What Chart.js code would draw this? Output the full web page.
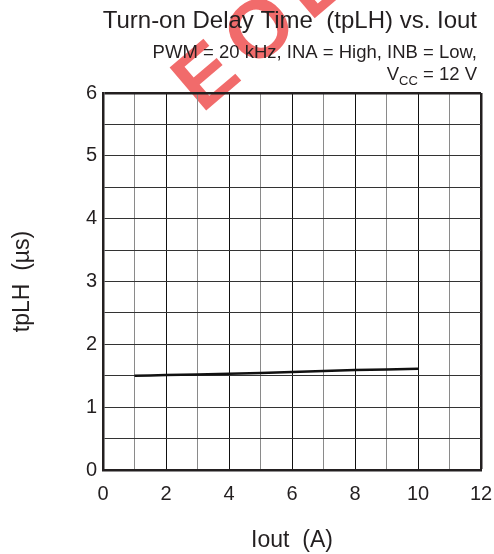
<!DOCTYPE html>
<html>
<head>
<meta charset="utf-8">
<script src="https://cdn.jsdelivr.net/npm/chart.js@4"></script>
<style>
  body { margin: 0; background: #fff; }
  #wrap { width: 494px; height: 554px; position: relative; }
</style>
</head>
<body>
<div id="wrap"><canvas id="chart"></canvas></div>
<script>
// ข้อมูลจากกราฟ
const iout = [1, 2, 4, 6, 8, 10];               // Iout (A)
const tplh = [1.50, 1.51, 1.53, 1.56, 1.59, 1.61]; // tpLH (µs)
const xTicks = [0, 2, 4, 6, 8, 10, 12];
const yTicks = [0, 1, 2, 3, 4, 5, 6];

const titleText = "Turn-on Delay Time  (tpLH) vs. Iout";
const subLine1 = "PWM = 20 kHz, INA = High, INB = Low,";
const FONT = "'Liberation Sans', Arial, sans-serif";

// วาดลายน้ำ EOL + หัวข้อ
const decor = {
  id: "decor",
  beforeDraw(chart) {
    const ctx = chart.ctx;
    ctx.save();
    ctx.translate(202, 114);
    ctx.rotate(-0.705);
    ctx.font = "bold 82px " + FONT;
    ctx.textAlign = "left";
    ctx.textBaseline = "alphabetic";
    ctx.fillStyle = "rgba(236,50,50,0.72)";
    let x = 0;
    for (const ch of "EOL") {
      ctx.fillText(ch, x, 0);
      x += ctx.measureText(ch).width + 12;
    }
    ctx.restore();
  },
  afterDraw(chart) {
    const ctx = chart.ctx;
    const R = 477;
    ctx.save();
    ctx.fillStyle = "#231f20";
    ctx.textAlign = "right";
    ctx.textBaseline = "alphabetic";
    ctx.font = "24px " + FONT;
    ctx.fillText(titleText, R, 28);
    ctx.font = "18.5px " + FONT;
    ctx.fillText(subLine1, R, 58);
    // V_CC = 12 V
    const rest = " = 12 V";
    const wRest = ctx.measureText(rest).width;
    ctx.fillText(rest, R, 80);
    ctx.font = "13px " + FONT;
    const wSub = ctx.measureText("CC").width;
    ctx.fillText("CC", R - wRest, 85);
    ctx.font = "18.5px " + FONT;
    ctx.fillText("V", R - wRest - wSub, 80);
    ctx.restore();
  }
};

new Chart(document.getElementById("chart"), {
  type: "line",
  data: {
    datasets: [{
      data: iout.map((x, i) => ({ x: x, y: tplh[i] })),
      borderColor: "#111",
      borderWidth: 2.5,
      pointRadius: 0,
      tension: 0.3,
      fill: false
    }]
  },
  options: {
    responsive: true,
    maintainAspectRatio: false,
    animation: false,
    layout: { padding: { top: 93, right: 13, left: 0, bottom: 0 } },
    plugins: { legend: { display: false }, tooltip: { enabled: false } },
    scales: {
      x: {
        type: "linear",
        min: xTicks[0],
        max: xTicks[xTicks.length - 1],
        afterFit: s => { s.height = 84; s.paddingLeft = 0; s.paddingRight = 0; },
        border: { color: "#231f20", width: 2.5 },
        grid: {
          drawTicks: false,
          color: c => c.tick.value === 12 ? "#231f20" : (c.tick.value % 2 === 0 ? "#111" : "#8a8a8a"),
          lineWidth: c => c.tick.value === 12 ? 2.5 : 1
        },
        ticks: {
          stepSize: 1,
          autoSkip: false,
          maxRotation: 0,
          padding: 12,
          color: "#231f20",
          font: { family: FONT, size: 20 },
          callback: v => xTicks.includes(v) ? v : ""
        },
        title: {
          display: true,
          text: "Iout  (A)",
          color: "#231f20",
          font: { family: FONT, size: 23 },
          padding: { top: -2, bottom: 0 }
        }
      },
      y: {
        type: "linear",
        min: yTicks[0],
        max: yTicks[yTicks.length - 1],
        afterFit: s => { s.width = 103; s.paddingTop = 0; s.paddingBottom = 0; },
        border: { color: "#231f20", width: 2.5 },
        grid: {
          drawTicks: false,
          color: c => c.tick.value === 6 ? "#231f20" : "#333",
          lineWidth: c => c.tick.value === 6 ? 2.5 : 1
        },
        ticks: {
          stepSize: 0.5,
          autoSkip: false,
          padding: 6,
          color: "#231f20",
          font: { family: FONT, size: 20 },
          callback: v => yTicks.includes(v) ? v : ""
        },
        title: {
          display: true,
          text: "tpLH  (µs)",
          color: "#231f20",
          font: { family: FONT, size: 23 },
          padding: { top: 9, bottom: 0 }
        }
      }
    }
  },
  plugins: [decor]
});
</script>
</body>
</html>
